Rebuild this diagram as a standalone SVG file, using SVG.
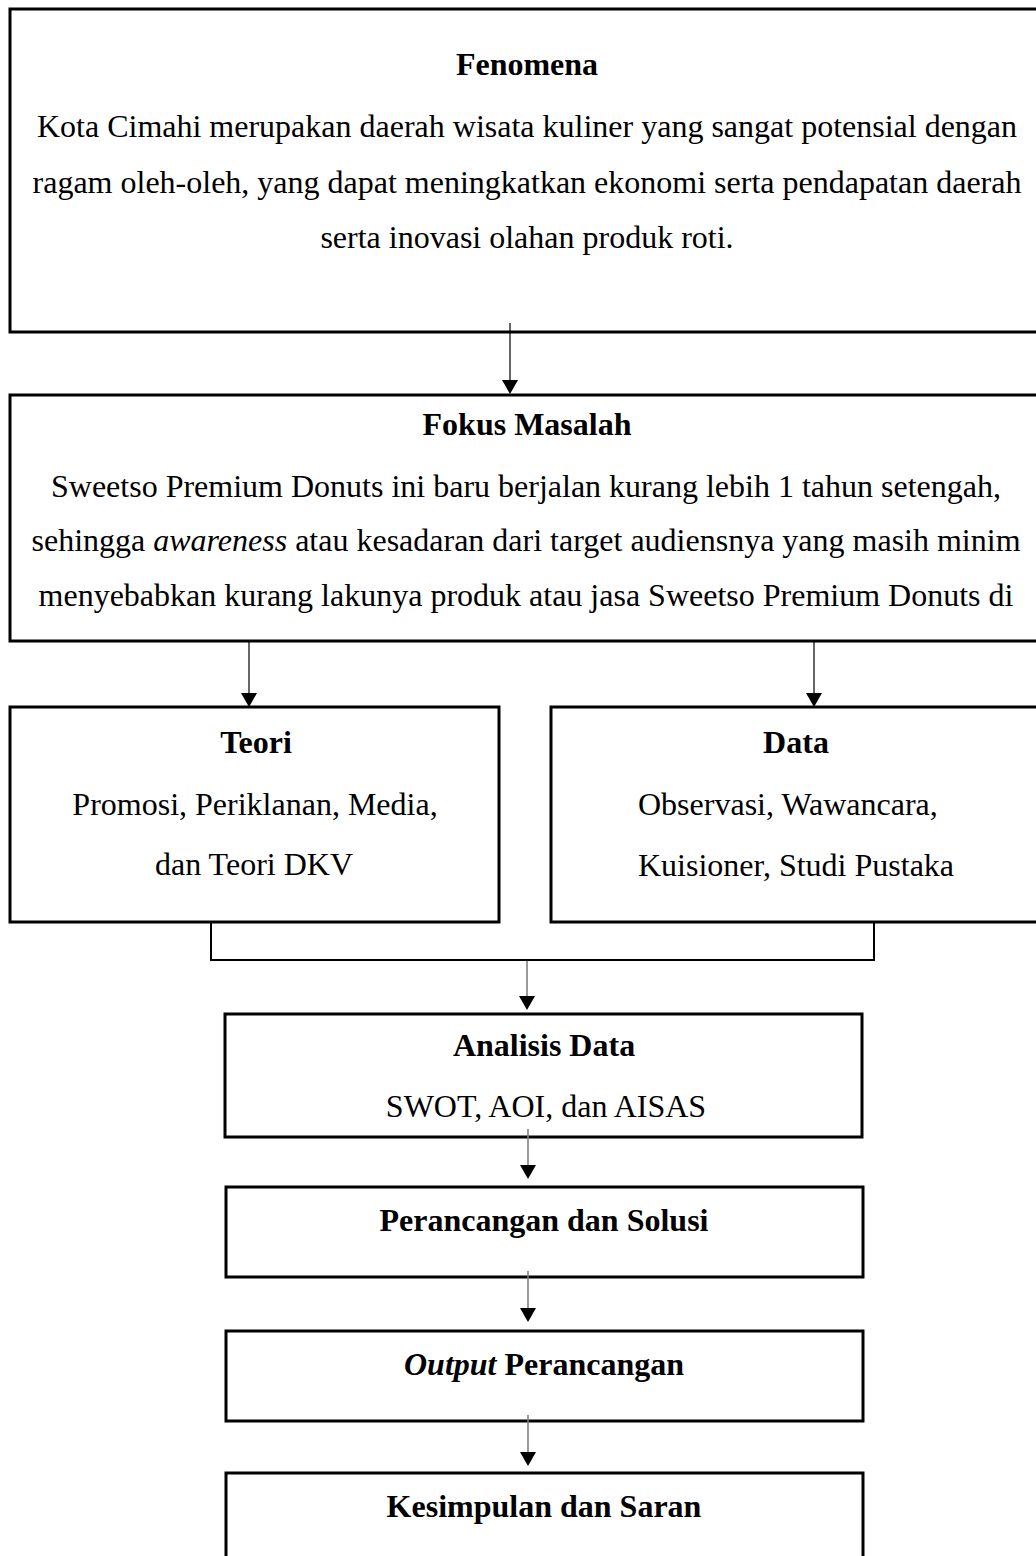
<svg xmlns="http://www.w3.org/2000/svg" width="1036" height="1556" viewBox="0 0 1036 1556">
<style>
  text { font-family: "Liberation Serif", "Times New Roman", serif; font-size: 32px; fill: #000; }
  .b { font-weight: bold; }
  .c { text-anchor: middle; }
  .box { fill: #fff; stroke: #000; stroke-width: 3; }
  .ln { fill: none; stroke: #000; stroke-width: 1.2; }
  .br { fill: none; stroke: #000; stroke-width: 2; }
  .gl { fill: none; stroke: #808080; stroke-width: 1.6; }
  .hd { fill: #000; stroke: none; }
</style>
<rect x="0" y="0" width="1036" height="1556" fill="#fff"/>

<g id="fenomena">
  <rect class="box" x="10" y="9" width="1040" height="323"/>
  <text class="b c" x="527" y="75">Fenomena</text>
  <text class="c" x="527" y="137">Kota Cimahi merupakan daerah wisata kuliner yang sangat potensial dengan</text>
  <text class="c" x="527" y="193">ragam oleh-oleh, yang dapat meningkatkan ekonomi serta pendapatan daerah</text>
  <text class="c" x="527" y="248">serta inovasi olahan produk roti.</text>
</g>

<g id="fokus">
  <rect class="box" x="10" y="395" width="1040" height="246"/>
  <text class="b c" x="527" y="435">Fokus Masalah</text>
  <text class="c" x="526" y="497">Sweetso Premium Donuts ini baru berjalan kurang lebih 1 tahun setengah,</text>
  <text class="c" x="526" y="551">sehingga <tspan font-style="italic">awareness</tspan> atau kesadaran dari target audiensnya yang masih minim</text>
  <text class="c" x="526" y="606">menyebabkan kurang lakunya produk atau jasa Sweetso Premium Donuts di</text>
</g>

<g id="teori">
  <rect class="box" x="10" y="707" width="489" height="215" stroke-width="3.5"/>
  <text class="b c" x="256" y="753">Teori</text>
  <text class="c" x="255" y="815">Promosi, Periklanan, Media,</text>
  <text class="c" x="254" y="875">dan Teori DKV</text>
</g>

<g id="data">
  <rect class="box" x="551" y="707" width="500" height="215" stroke-width="3.5"/>
  <text class="b c" x="796" y="753">Data</text>
  <text x="638" y="815">Observasi, Wawancara,</text>
  <text x="638" y="876">Kuisioner, Studi Pustaka</text>
</g>

<g id="analisis">
  <rect class="box" x="225" y="1014" width="637" height="123"/>
  <text class="b c" x="544" y="1056">Analisis Data</text>
  <text class="c" x="546" y="1117">SWOT, AOI, dan AISAS</text>
</g>

<g id="perancangan">
  <rect class="box" x="226" y="1187" width="637" height="90"/>
  <text class="b c" x="544" y="1231">Perancangan dan Solusi</text>
</g>

<g id="output">
  <rect class="box" x="226" y="1331" width="637" height="90"/>
  <text class="b c" x="544" y="1375"><tspan font-style="italic">Output</tspan> Perancangan</text>
</g>

<g id="kesimpulan">
  <rect class="box" x="226" y="1473" width="637" height="100"/>
  <text class="b c" x="544" y="1517">Kesimpulan dan Saran</text>
</g>

<g id="connectors">
  <line class="ln" x1="510" y1="323" x2="510" y2="382"/>
  <path class="hd" d="M502,380 L518,380 L510,394 Z"/>

  <line class="ln" x1="249" y1="641" x2="249" y2="695"/>
  <path class="hd" d="M241,693 L257,693 L249,707 Z"/>
  <line class="ln" x1="814" y1="641" x2="814" y2="695"/>
  <path class="hd" d="M806,693 L822,693 L814,707 Z"/>

  <polyline class="br" points="211,923 211,960 874,960 874,923"/>
  <line class="gl" x1="527" y1="961" x2="527" y2="998"/>
  <path class="hd" d="M519,996 L535,996 L527,1010 Z"/>

  <line class="gl" x1="528" y1="1129" x2="528" y2="1167"/>
  <path class="hd" d="M520,1165 L536,1165 L528,1179 Z"/>

  <line class="gl" x1="528" y1="1271" x2="528" y2="1310"/>
  <path class="hd" d="M520,1308 L536,1308 L528,1322 Z"/>

  <line class="gl" x1="528" y1="1415" x2="528" y2="1454"/>
  <path class="hd" d="M520,1452 L536,1452 L528,1466 Z"/>
</g>
</svg>
